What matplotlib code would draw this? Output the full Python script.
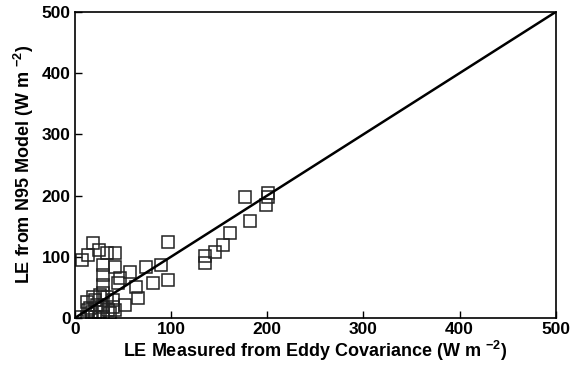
import matplotlib
matplotlib.use("Agg")
import matplotlib.pyplot as plt
import numpy as np

plt.rcParams['font.family'] = ['Liberation Sans', 'DejaVu Sans']
plt.rcParams['font.weight'] = 'bold'
plt.rcParams['mathtext.fontset'] = 'custom'
plt.rcParams['mathtext.rm'] = 'Liberation Sans:bold'
plt.rcParams['mathtext.default'] = 'rm'

# eddy covariance LE vs modelled LE (W m-2)
measured = [7, 19, 13.5, 25, 33, 41.5, 29, 41.5, 29, 29, 47, 45, 57, 74, 90, 81, 97, 97,
            64, 65.5, 52, 19, 5, 135, 135, 145.5, 154, 161, 177, 182, 200.5, 200.5, 198.5,
            26, 33, 12.5, 15.5, 12.5, 21, 29, 36, 39.5, 39.5, 23, 29, 29, 21, 34, 26, 18,
            41.5, 13.5]
modelled = [95, 122, 103, 111, 106, 106, 87, 83, 70, 54, 65, 57, 75, 83, 87, 57, 62, 124,
            51, 33, 21, 34, 2, 101, 90, 108, 119, 139, 198, 158, 204, 198, 185,
            38, 34, 26, 16, 2, 2, 2, 8, 18, 29, 21, 18, 41, 29, 13, 10, 10,
            13, 13]

one_to_one = [0, 500]

fig = plt.figure(figsize=(5.76, 3.71), dpi=100)
ax = fig.add_axes([0.130, 0.143, 0.835, 0.825])

ax.plot(measured, modelled, 's', markersize=9, markerfacecolor='none',
        markeredgecolor='#222222', markeredgewidth=1.1)
ax.plot(one_to_one, one_to_one, color='black', linewidth=1.8)

ax.set_xlim(0, 500)
ax.set_ylim(0, 500)
ax.set_xticks(np.arange(0, 501, 100))
ax.set_yticks(np.arange(0, 501, 100))
ax.tick_params(direction='in', length=5, width=1, labelsize=12.5, pad=3)
for spine in ax.spines.values():
    spine.set_linewidth(1.2)

ax.set_xlabel(r'LE Measured from Eddy Covariance (W m $^{-2}$)', fontsize=13, fontweight='bold', labelpad=1)
ax.set_ylabel(r'LE from N95 Model (W m $^{-2}$)', fontsize=13, fontweight='bold', labelpad=4)

fig.savefig('out.png', dpi=100)
